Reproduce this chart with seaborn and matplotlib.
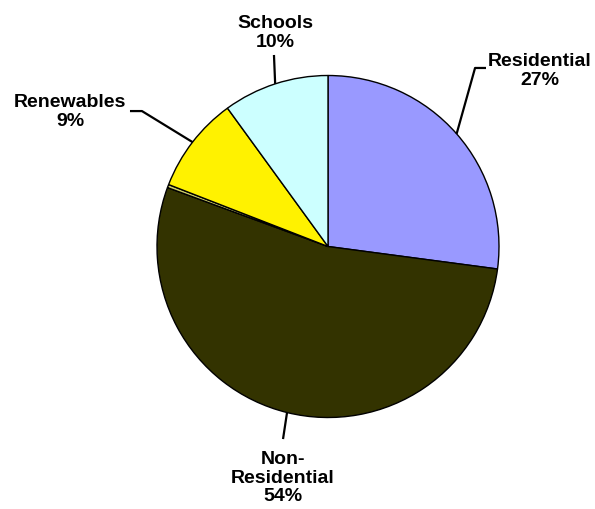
import numpy as np
import seaborn as sns
import matplotlib
matplotlib.use("Agg")
import matplotlib.pyplot as plt

# slices, clockwise from 12 o'clock
categories = ["Residential", "Non-\nResidential", "", "Renewables", "Schools"]
shares = [27.1, 53.5, 0.3, 9.1, 10.0]
pct_labels = ["27%", "54%", "", "9%", "10%"]
colors = ["#9999FF", "#333300", "#CCCC66", "#FFF200", "#CCFFFF"]

sns.set_theme(style="white")
plt.rcParams["font.family"] = ["Liberation Sans", "DejaVu Sans"]

fig = plt.figure(figsize=(5.95, 5.10), dpi=100)
ax = fig.add_axes([0, 0, 1, 1])

wedges, _ = ax.pie(shares, colors=colors, startangle=90, counterclock=False,
                   radius=1.0, center=(0, 0),
                   wedgeprops=dict(edgecolor="black", linewidth=1.0))

# pixel layout -> data units (1 unit = 171 px, centre at 328, 247.5)
ax.set_xlim(-328 / 171, (595 - 328) / 171)
ax.set_ylim(-(510 - 247.5) / 171, 247.5 / 171)
ax.set_aspect("equal")
ax.axis("off")

# label text position and leader elbow (None = straight line)
label_pos = {
    0: ((1.24, 1.032), [(0.924, 1.044), (0.860, 1.044)]),
    1: ((-0.263, -1.348), [(-0.263, -1.126)]),
    3: ((-1.509, 0.792), [(-1.158, 0.792), (-1.088, 0.792)]),
    4: ((-0.31, 1.255), [(-0.316, 1.12)]),
}

for i, ((tx, ty), elbow) in label_pos.items():
    w = wedges[i]
    mid = np.deg2rad((w.theta1 + w.theta2) / 2)
    tip = (np.cos(mid), np.sin(mid))
    pts = elbow + [tip]
    ax.plot([p[0] for p in pts], [p[1] for p in pts], color="black", lw=1.6,
            solid_capstyle="butt")
    ax.text(tx, ty, categories[i] + "\n" + pct_labels[i], ha="center",
            va="center", fontsize=14, fontweight="bold", linespacing=1.1,
            color="black")

fig.savefig("out.png", dpi=100, facecolor="white")
